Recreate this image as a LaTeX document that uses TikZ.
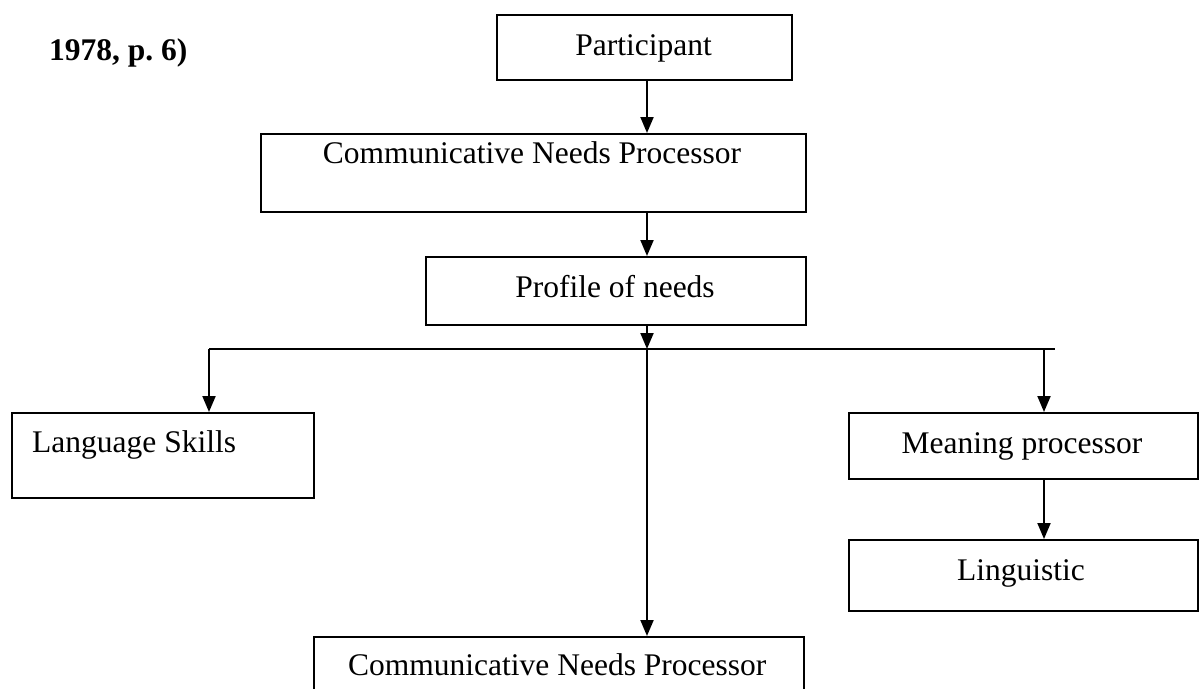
\documentclass[tikz,border=0pt]{standalone}
\usepackage{fontspec}
\setmainfont{Liberation Serif}
\usetikzlibrary{arrows.meta}
\begin{document}
\begin{tikzpicture}[x=1pt,y=-1pt,
  box/.style={draw, line width=2pt, inner sep=0pt, anchor=north west},
  lbl/.style={font=\fontsize{31.5}{38}\selectfont, inner sep=0pt},
  ln/.style={line width=2pt},
  arr/.style={line width=2pt, -{Triangle[length=16pt,width=13pt]}}]
\useasboundingbox (0,0) rectangle (1199,688);
\clip (0,0) rectangle (1199,688);
% boxes
\node[box, minimum width=295pt, minimum height=65pt] (part) at (496,14) {};
\node[box, minimum width=545pt, minimum height=78pt] (cnp) at (260,133) {};
\node[box, minimum width=380pt, minimum height=68pt] (prof) at (425,256) {};
\node[box, minimum width=302pt, minimum height=85pt] (lang) at (11,412) {};
\node[box, minimum width=349pt, minimum height=66pt] (mean) at (848,412) {};
\node[box, minimum width=349pt, minimum height=71pt] (ling) at (848,539) {};
\node[box, minimum width=490pt, minimum height=80pt] (cnpb) at (313,636) {};
% texts
\node[lbl, anchor=base west, font=\fontsize{31.5}{38}\selectfont\bfseries] (ref) at (49,60) {1978, p.\ 6)};
\node[lbl, anchor=base] (tpart) at (643.5,55) {Participant};
\node[lbl, anchor=base] (tcnp) at (532,163) {Communicative Needs Processor};
\node[lbl, anchor=base] (tprof) at (615,297) {Profile of needs};
\node[lbl, anchor=base west] (tlang) at (32,452) {Language Skills};
\node[lbl, anchor=base] (tmean) at (1022,453) {Meaning processor};
\node[lbl, anchor=base] (tling) at (1021,580) {Linguistic};
\node[lbl, anchor=base west] (tcnpb) at (348,675) {Communicative Needs Processor};
% junctions
\coordinate (jl) at (209,349);
\coordinate (jc) at (647,349);
\coordinate (jr) at (1044,349);
\coordinate (je) at (1055,349);
% connectors
\draw[ln] (jl) -- (je);
\draw[arr] (jc |- part.south) -- (jc |- cnp.north);
\draw[arr] (jc |- cnp.south) -- (jc |- prof.north);
\draw[arr] (jc |- prof.south) -- (jc);
\draw[arr] (jl) -- (jl |- lang.north);
\draw[arr] (jc) -- (jc |- cnpb.north);
\draw[arr] (jr) -- (jr |- mean.north);
\draw[arr] (jr |- mean.south) -- (jr |- ling.north);
\end{tikzpicture}
\end{document}
